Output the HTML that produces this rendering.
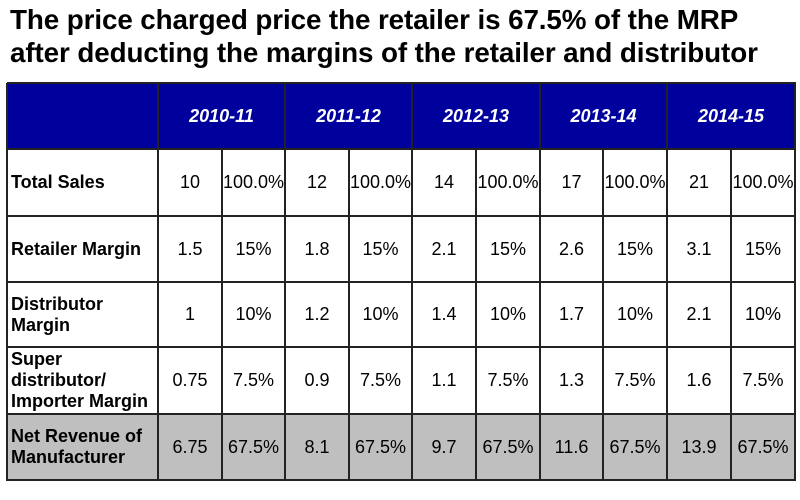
<!DOCTYPE html>
<html><head><style>
body{margin:0;width:800px;height:500px;background:#fff;position:relative;overflow:hidden;font-family:"Liberation Sans",Arial,sans-serif}
.t{position:absolute;left:10px;font-weight:bold;font-size:27.8px;color:#000;white-space:nowrap;letter-spacing:-0.1px}
.c{position:absolute;display:flex;align-items:center;justify-content:center;font-size:18px;box-sizing:border-box}
.l{justify-content:flex-start;padding-left:4px;font-weight:bold;line-height:21px}
.h{color:#fff;font-style:italic;font-weight:bold;font-size:18px}
.vl{position:absolute;width:2px;background:#222}
.hl{position:absolute;height:2px;background:#222;left:7px;width:789px}
</style></head><body>
<div class="t" style="top:4px">The price charged price the retailer is 67.5% of the MRP</div>
<div class="t" style="top:37px">after deducting the margins of the retailer and distributor</div>
<div style="position:absolute;left:7px;top:83px;width:789px;height:66px;background:#00009c"></div>
<div style="position:absolute;left:7px;top:414px;width:789px;height:66px;background:#bfbfbf"></div>
<div id="g"></div>
<script>
var xs=[7,158,222,285,349,412,476,540,603,667,731,795];
var ys=[83,149,216,282,347,414,480];
var h='';
var yrs=['2010-11','2011-12','2012-13','2013-14','2014-15'];
for(var i=0;i<5;i++){h+='<div class="c h" style="left:'+xs[1+2*i]+'px;top:83px;width:'+(xs[3+2*i]-xs[1+2*i])+'px;height:66px">'+yrs[i]+'</div>';}
var rows=[['Total Sales',['10','100.0%','12','100.0%','14','100.0%','17','100.0%','21','100.0%']],
['Retailer Margin',['1.5','15%','1.8','15%','2.1','15%','2.6','15%','3.1','15%']],
['Distributor<br>Margin',['1','10%','1.2','10%','1.4','10%','1.7','10%','2.1','10%']],
['Super<br>distributor/<br>Importer Margin',['0.75','7.5%','0.9','7.5%','1.1','7.5%','1.3','7.5%','1.6','7.5%']],
['Net Revenue of<br>Manufacturer',['6.75','67.5%','8.1','67.5%','9.7','67.5%','11.6','67.5%','13.9','67.5%']]];
for(var r=0;r<5;r++){var y=ys[r+1],hh=ys[r+2]-y;
h+='<div class="c l" style="left:7px;top:'+y+'px;width:151px;height:'+hh+'px">'+rows[r][0]+'</div>';
for(var j=0;j<10;j++){h+='<div class="c" style="left:'+xs[j+1]+'px;top:'+y+'px;width:'+(xs[j+2]-xs[j+1])+'px;height:'+hh+'px">'+rows[r][1][j]+'</div>';}}
for(var k=0;k<xs.length;k++){var tp=(k==0||k%2==1||k==11)?83:149;h+='<div class="vl" style="left:'+(xs[k]-1)+'px;top:'+tp+'px;height:'+(481-tp)+'px"></div>';}
for(var k=0;k<ys.length;k++){h+='<div class="hl" style="top:'+(ys[k]-1)+'px"></div>';}
document.getElementById('g').innerHTML=h;
</script>
</body></html>
